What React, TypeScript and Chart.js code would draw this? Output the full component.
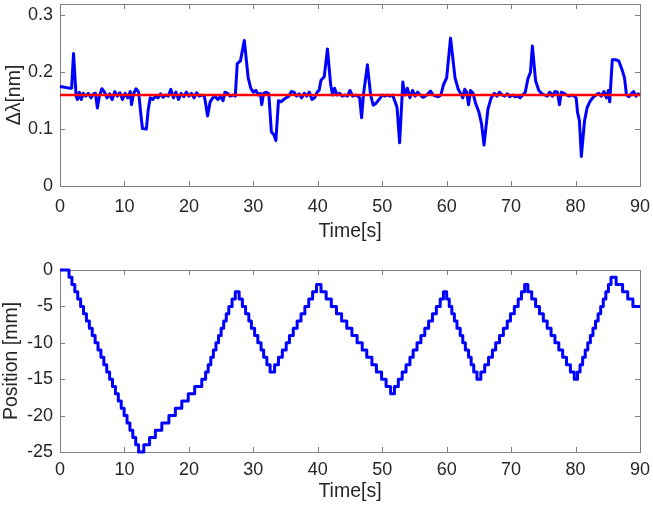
import React, { useEffect, useRef } from 'react';
import { Chart, registerables } from 'chart.js';

Chart.register(...registerables);

const FONT = "'Liberation Sans', Arial, Helvetica, sans-serif";
const AXIS_COLOR = '#808080';
const TEXT_COLOR = '#262626';

// ---------- data ----------
const timeTicks = [0, 10, 20, 30, 40, 50, 60, 70, 80, 90];
const shiftTicks = [0, 0.1, 0.2, 0.3];
const positionTicks = [-25, -20, -15, -10, -5, 0];

const refLevel = 0.16;

const shiftT = [
  0, 0.5, 1.0, 1.5, 1.8, 2.1, 2.5, 2.7, 3.0, 3.3, 3.6, 4.0, 4.4, 4.8, 5.2, 5.5, 5.8, 6.1, 6.5, 6.9,
  7.3, 7.7, 8.1, 8.5, 8.9, 9.3, 9.7, 10.1, 10.5, 10.9, 11.1, 11.4, 11.8, 12.2, 12.6, 12.8, 13.4, 13.7, 14.0, 14.4,
  14.8, 15.2, 15.6, 16.0, 16.4, 16.8, 17.2, 17.6, 18.0, 18.4, 18.8, 19.2, 19.6, 20.0, 20.4, 20.8, 21.2, 21.6, 22.0, 22.4,
  22.6, 22.9, 23.3, 23.7, 24.1, 24.5, 24.9, 25.3, 25.6, 26.0, 26.4, 26.8, 27.2, 27.5, 28.0, 28.6, 29.2, 29.6, 30.0, 30.4,
  30.8, 31.1, 31.3, 31.6, 32.0, 32.4, 32.8, 33.2, 33.5, 33.9, 34.3, 34.7, 35.1, 35.5, 35.9, 36.3, 36.7, 37.1, 37.5, 37.9,
  38.3, 38.7, 39.1, 39.5, 39.9, 40.2, 40.5, 41.0, 41.5, 42.0, 42.3, 42.6, 43.0, 43.4, 43.8, 44.2, 44.6, 45.0, 45.4, 45.8,
  46.2, 46.5, 46.8, 47.1, 47.7, 48.2, 48.6, 49.0, 49.5, 50.0, 50.4, 50.8, 51.2, 51.6, 52.0, 52.3, 52.7, 53.2, 53.5, 53.9,
  54.3, 54.7, 55.1, 55.5, 55.9, 56.3, 56.7, 57.1, 57.5, 57.9, 58.3, 58.7, 59.1, 59.5, 60.0, 60.6, 61.3, 61.8, 62.2, 62.5,
  62.8, 63.1, 63.4, 63.7, 64.1, 64.5, 65.0, 65.4, 65.8, 66.4, 66.9, 67.4, 67.8, 68.2, 68.6, 69.0, 69.4, 69.8, 70.2, 70.6,
  71.0, 71.4, 71.8, 72.2, 72.6, 73.0, 73.3, 73.8, 74.3, 74.8, 75.2, 75.6, 76.0, 76.4, 76.8, 77.2, 77.5, 77.8, 78.2, 78.6,
  79.0, 79.4, 79.8, 80.1, 80.3, 80.6, 80.9, 81.4, 81.8, 82.3, 82.8, 83.2, 83.6, 84.0, 84.4, 84.8, 85.1, 85.3, 85.7, 86.2,
  86.7, 87.2, 87.6, 87.9, 88.3, 88.7, 89.0, 89.4, 89.7, 90.0,
];

const shiftV = [
  0.175, 0.174, 0.173, 0.172, 0.172, 0.233, 0.158, 0.152, 0.165, 0.152, 0.163, 0.158, 0.163, 0.155, 0.162, 0.163, 0.137, 0.158, 0.171, 0.165,
  0.155, 0.162, 0.152, 0.166, 0.158, 0.164, 0.152, 0.163, 0.155, 0.166, 0.143, 0.162, 0.171, 0.165, 0.12, 0.101, 0.1, 0.135, 0.155, 0.152,
  0.158, 0.155, 0.162, 0.156, 0.16, 0.158, 0.17, 0.155, 0.165, 0.152, 0.163, 0.157, 0.165, 0.158, 0.163, 0.155, 0.164, 0.158, 0.16, 0.158,
  0.145, 0.123, 0.148, 0.155, 0.157, 0.152, 0.158, 0.15, 0.165, 0.163, 0.158, 0.16, 0.158, 0.215, 0.22, 0.256, 0.19, 0.172, 0.165, 0.168,
  0.16, 0.163, 0.143, 0.163, 0.165, 0.162, 0.095, 0.09, 0.08, 0.15, 0.148, 0.152, 0.155, 0.158, 0.166, 0.165, 0.158, 0.162, 0.155, 0.163,
  0.158, 0.165, 0.152, 0.155, 0.165, 0.168, 0.186, 0.192, 0.241, 0.178, 0.16, 0.172, 0.16, 0.163, 0.158, 0.16, 0.158, 0.168, 0.158, 0.16,
  0.158, 0.155, 0.12, 0.162, 0.213, 0.16, 0.142, 0.145, 0.152, 0.16, 0.158, 0.16, 0.158, 0.16, 0.148, 0.138, 0.076, 0.183, 0.16, 0.172,
  0.155, 0.168, 0.158, 0.165, 0.16, 0.156, 0.158, 0.162, 0.167, 0.16, 0.158, 0.157, 0.16, 0.178, 0.19, 0.26, 0.19, 0.17, 0.162, 0.155,
  0.17, 0.165, 0.143, 0.168, 0.163, 0.145, 0.13, 0.11, 0.072, 0.135, 0.155, 0.163, 0.158, 0.165, 0.16, 0.158, 0.162, 0.157, 0.16, 0.157,
  0.158, 0.155, 0.16, 0.165, 0.188, 0.2, 0.246, 0.185, 0.168, 0.162, 0.16, 0.158, 0.165, 0.158, 0.166, 0.165, 0.143, 0.165, 0.163, 0.16,
  0.158, 0.16, 0.158, 0.155, 0.13, 0.115, 0.052, 0.115, 0.138, 0.15, 0.157, 0.16, 0.163, 0.158, 0.166, 0.155, 0.168, 0.148, 0.222, 0.222,
  0.22, 0.205, 0.19, 0.16, 0.157, 0.163, 0.166, 0.158, 0.162, 0.16,
];

// Stage position: time at which each new step value begins
const posT = [
  0, 1.4, 1.85, 2.3, 2.75, 3.2, 3.65, 4.1, 4.55, 5.0, 5.45, 5.9, 6.35, 6.8, 7.25, 7.7, 8.15, 8.6, 9.05, 9.5, 9.95, 10.4, 10.85, 11.3, 11.75, 12.2,
  13.0, 13.9, 14.8, 15.8, 16.9, 17.9, 18.9, 19.9, 20.9, 22.0, 22.6, 23.0, 23.4, 23.8, 24.2, 24.6, 25.0, 25.4, 25.8, 26.2, 26.7, 27.2,
  27.8, 28.3, 28.8, 29.3, 29.7, 30.2, 30.7, 31.2, 31.6, 32.1, 32.6,
  33.3, 33.9, 34.5, 35.1, 35.6, 36.2, 36.8, 37.4, 38.0, 38.6, 39.2, 39.8,
  40.5, 41.3, 42.1, 42.9, 43.7, 44.5, 45.3, 46.1, 46.9, 47.6, 48.4, 49.1, 49.9, 50.6, 51.3,
  51.9, 52.5, 53.1, 53.7, 54.3, 54.8, 55.4, 56.0, 56.6, 57.2, 57.8, 58.4, 59.0, 59.5,
  60.0, 60.4, 60.8, 61.2, 61.6, 62.1, 62.5, 62.9, 63.4, 63.8, 64.2, 64.7,
  65.3, 65.9, 66.5, 67.1, 67.6, 68.2, 68.8, 69.4, 69.9, 70.5, 71.1, 71.6, 72.1,
  72.6, 73.2, 73.8, 74.4, 75.0, 75.6, 76.2, 76.8, 77.4, 78.0, 78.6, 79.2, 79.8,
  80.3, 80.7, 81.1, 81.5, 81.9, 82.3, 82.7, 83.1, 83.5, 83.9, 84.3, 84.7, 85.1, 85.5,
  86.3, 87.3, 88.1, 88.9, 90.0,
];

const posV = [
  0, -1, -2, -3, -4, -5, -6, -7, -8, -9, -10, -11, -12, -13, -14, -15, -16, -17, -18, -19, -20, -21, -22, -23, -24, -25,
  -24, -23, -22, -21, -20, -19, -18, -17, -16, -15, -14, -13, -12, -11, -10, -9, -8, -7, -6, -5, -4, -3,
  -4, -5, -6, -7, -8, -9, -10, -11, -12, -13, -14,
  -13, -12, -11, -10, -9, -8, -7, -6, -5, -4, -3, -2,
  -3, -4, -5, -6, -7, -8, -9, -10, -11, -12, -13, -14, -15, -16, -17,
  -16, -15, -14, -13, -12, -11, -10, -9, -8, -7, -6, -5, -4, -3,
  -4, -5, -6, -7, -8, -9, -10, -11, -12, -13, -14, -15,
  -14, -13, -12, -11, -10, -9, -8, -7, -6, -5, -4, -3, -2,
  -3, -4, -5, -6, -7, -8, -9, -10, -11, -12, -13, -14, -15,
  -14, -13, -12, -11, -10, -9, -8, -7, -6, -5, -4, -3, -2, -1,
  -2, -3, -4, -5, -5,
];

// ---------- MATLAB-like box with inward ticks ----------
const matlabAxes = {
  id: 'matlabAxes',
  beforeDatasetsDraw(chart: any) {
    const { ctx, chartArea } = chart;
    const { left, right, top, bottom } = chartArea;
    const xs = chart.scales.x;
    const ys = chart.scales.y;
    const L = 5;
    ctx.save();
    ctx.strokeStyle = AXIS_COLOR;
    ctx.lineWidth = 1;
    ctx.beginPath();
    xs.ticks.forEach((t: any) => {
      const p = Math.round(xs.getPixelForValue(t.value)) + 0.5;
      ctx.moveTo(p, bottom);
      ctx.lineTo(p, bottom - L);
      ctx.moveTo(p, top);
      ctx.lineTo(p, top + L);
    });
    ys.ticks.forEach((t: any) => {
      const p = Math.round(ys.getPixelForValue(t.value)) + 0.5;
      ctx.moveTo(left, p);
      ctx.lineTo(left + L, p);
      ctx.moveTo(right, p);
      ctx.lineTo(right - L, p);
    });
    ctx.stroke();
    ctx.strokeRect(left + 0.5, top + 0.5, right - left, bottom - top);
    ctx.restore();
  },
};

interface PanelCfg {
  yMin: number;
  yMax: number;
  yTicks: number[];
  yTitle: string;
  padTop: number;
  xHeight: number;
  xTickPad: number;
  xTitlePadBottom: number;
  yTitlePad: number;
  yFmt: (v: number) => string;
}

function buildOptions(c: PanelCfg): any {
  return {
    responsive: false,
    animation: false,
    events: [],
    layout: { padding: { top: c.padTop, right: 13, left: 0, bottom: 0 } },
    plugins: { legend: { display: false }, tooltip: { enabled: false } },
    scales: {
      x: {
        type: 'linear',
        min: timeTicks[0],
        max: timeTicks[timeTicks.length - 1],
        afterBuildTicks: (s: any) => {
          s.ticks = timeTicks.map((v) => ({ value: v }));
        },
        afterFit: (s: any) => {
          s.height = c.xHeight;
          s.paddingLeft = 0;
          s.paddingRight = 0;
          s.paddingTop = 0;
          s.paddingBottom = 0;
        },
        grid: { display: false, drawTicks: false },
        border: { display: false },
        ticks: {
          color: TEXT_COLOR,
          font: { family: FONT, size: 18 },
          padding: c.xTickPad,
          maxRotation: 0,
          autoSkip: false,
          callback: (v: number) => String(v),
        },
        title: {
          display: true,
          text: 'Time[s]',
          color: TEXT_COLOR,
          font: { family: FONT, size: 19.5 },
          padding: { top: 0, bottom: c.xTitlePadBottom },
        },
      },
      y: {
        type: 'linear',
        min: c.yMin,
        max: c.yMax,
        afterBuildTicks: (s: any) => {
          s.ticks = c.yTicks.map((v) => ({ value: v }));
        },
        afterFit: (s: any) => {
          s.width = 60;
          s.paddingLeft = 0;
          s.paddingRight = 0;
          s.paddingTop = 0;
          s.paddingBottom = 0;
        },
        grid: { display: false, drawTicks: false },
        border: { display: false },
        ticks: {
          color: TEXT_COLOR,
          font: { family: FONT, size: 18 },
          padding: 7,
          autoSkip: false,
          callback: (v: number) => c.yFmt(v),
        },
        title: {
          display: true,
          text: c.yTitle,
          color: TEXT_COLOR,
          font: { family: FONT, size: 19.5 },
          padding: { top: c.yTitlePad, bottom: 0 },
        },
      },
    },
  };
}

function TopPanel() {
  const ref = useRef<HTMLCanvasElement | null>(null);
  useEffect(() => {
    if (!ref.current) return;
    const chart = new Chart(ref.current, {
      type: 'line',
      data: {
        datasets: [
          {
            data: [
              { x: timeTicks[0], y: refLevel },
              { x: timeTicks[timeTicks.length - 1], y: refLevel },
            ],
            borderColor: '#ff0000',
            borderWidth: 2.5,
            pointRadius: 0,
            tension: 0,
            clip: false,
          },
          {
            data: shiftT.map((t, i) => ({ x: t, y: shiftV[i] })),
            borderColor: '#0000ff',
            borderWidth: 3,
            pointRadius: 0,
            tension: 0,
            clip: false,
            borderJoinStyle: 'round',
          },
        ],
      },
      options: buildOptions({
        yMin: 0,
        yMax: 0.32,
        yTicks: shiftTicks,
        yTitle: 'Δλ[nm]',
        padTop: 4,
        xHeight: 70,
        xTickPad: 10,
        xTitlePadBottom: 13,
        yTitlePad: 3,
        yFmt: (v) => (v === 0 ? '0' : v.toFixed(1)),
      }),
      plugins: [matlabAxes],
    } as any);
    return () => chart.destroy();
  }, []);
  return <canvas ref={ref} width={653} height={256} style={{ display: 'block' }} />;
}

function BottomPanel() {
  const ref = useRef<HTMLCanvasElement | null>(null);
  useEffect(() => {
    if (!ref.current) return;
    const chart = new Chart(ref.current, {
      type: 'line',
      data: {
        datasets: [
          {
            data: posT.map((t, i) => ({ x: t, y: posV[i] })),
            borderColor: '#0000ff',
            borderWidth: 3,
            pointRadius: 0,
            stepped: true,
            clip: false,
            borderJoinStyle: 'round',
          },
        ],
      },
      options: buildOptions({
        yMin: -25,
        yMax: 0,
        yTicks: positionTicks,
        yTitle: 'Position [mm]',
        padTop: 14,
        xHeight: 60,
        xTickPad: 7,
        xTitlePadBottom: 8.5,
        yTitlePad: 0,
        yFmt: (v) => String(v),
      }),
      plugins: [matlabAxes],
    } as any);
    return () => chart.destroy();
  }, []);
  return <canvas ref={ref} width={653} height={256} style={{ display: 'block' }} />;
}

export default function App() {
  return (
    <div style={{ position: 'absolute', left: 0, top: 0, width: 653, height: 512, background: '#ffffff' }}>
      <TopPanel />
      <BottomPanel />
    </div>
  );
}
